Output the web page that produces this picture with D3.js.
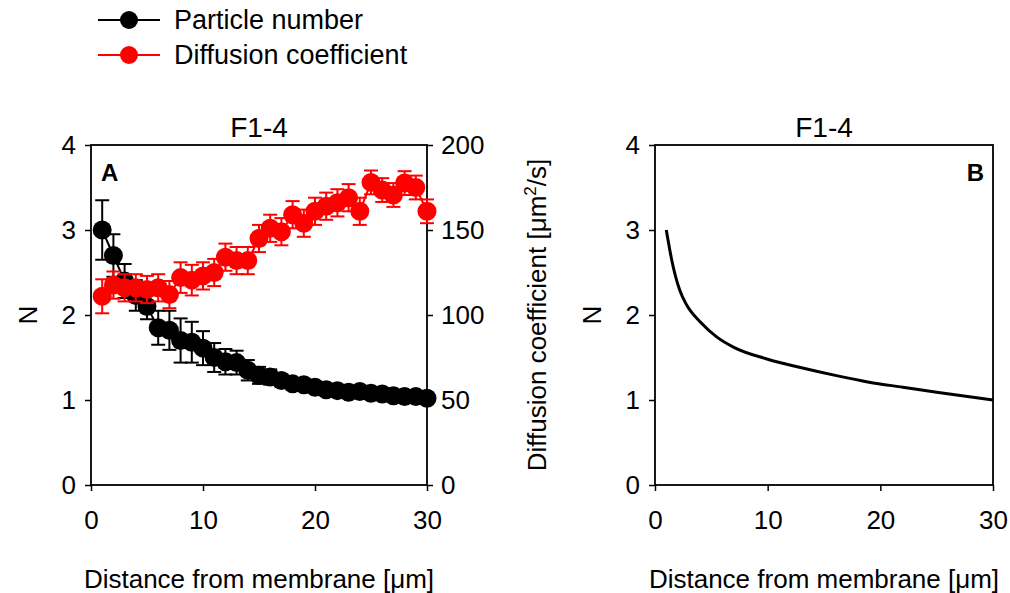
<!DOCTYPE html>
<html>
<head>
<meta charset="utf-8">
<script src="https://cdn.jsdelivr.net/npm/d3@7"></script>
<style>
  body { margin: 0; background: #fff; }
  svg text { font-family: "Liberation Sans", Arial, sans-serif; fill: #000; }
</style>
</head>
<body>
<div id="chart"></div>
<script>
// panel A, particle number N (mean and error)
const distA = d3.range(1, 31);
const nMean = [3.0, 2.7, 2.4, 2.23, 2.1, 1.85, 1.82, 1.7, 1.68, 1.61,
               1.5, 1.45, 1.44, 1.35, 1.29, 1.27, 1.23, 1.19, 1.18, 1.15,
               1.12, 1.11, 1.09, 1.1, 1.08, 1.07, 1.05, 1.04, 1.04, 1.02];
const nErr = [0.35, 0.25, 0.2, 0.18, 0.15, 0.2, 0.23, 0.26, 0.24, 0.2,
              0.17, 0.15, 0.14, 0.12, 0.1, 0.09, 0.07, 0.06, 0.06, 0.05,
              0.05, 0.04, 0.04, 0.04, 0.04, 0.04, 0.03, 0.03, 0.03, 0.03];
// panel A, diffusion coefficient (um^2/s)
const dMean = [111, 117.6, 116, 116, 115, 116, 112, 122, 120.5, 123,
               125, 134, 132, 132, 145, 151, 149, 159, 154, 161,
               164, 166, 169, 161, 178, 173.5, 170.6, 177.6, 175, 161];
const dErr = [10, 8, 8, 8, 8, 8, 8, 9, 9, 8,
              8, 8, 8, 8, 8, 8, 8, 8, 8, 8,
              8, 8, 8, 8, 7, 7, 7, 7, 7, 7];
// panel B, model curve
const distB = [1, 1.16, 1.48, 2.2, 2.8, 4, 5.5, 7, 10, 13, 16, 19, 22, 25, 30];
const nModel = [3.0, 2.88, 2.65, 2.29, 2.12, 1.92, 1.74, 1.62, 1.48, 1.38, 1.29, 1.21, 1.15, 1.09, 1.0];

const xTicks = [0, 10, 20, 30];
const nTicks = [0, 1, 2, 3, 4];
const dTicks = [0, 50, 100, 150, 200];

const W = 1010, H = 593;
const svg = d3.select('#chart').append('svg')
    .attr('width', W).attr('height', H);

const plotTop = 145, plotBottom = 485;
const fs = 26;
const fmt = d3.format('d');

function styleAxis(a) {
    a.select('.domain').remove();
    a.selectAll('line').attr('stroke-width', 1.5);
    a.selectAll('text').style('font-size', fs + 'px')
        .style('font-family', '"Liberation Sans", Arial, sans-serif');
}

function panel(left, right) {
    const x = d3.scaleLinear().domain([0, 30]).range([left, right]);
    const y = d3.scaleLinear().domain([0, 4]).range([plotBottom, plotTop]);
    const g = svg.append('g');
    // box
    g.append('rect').attr('x', left).attr('y', plotTop)
        .attr('width', right - left).attr('height', plotBottom - plotTop)
        .attr('fill', 'none').attr('stroke', '#000').attr('stroke-width', 1.8);
    g.append('g').attr('transform', `translate(0,${plotBottom})`)
        .call(d3.axisBottom(x).tickValues(xTicks).tickFormat(fmt).tickSize(6).tickPadding(20))
        .call(styleAxis);
    g.append('g').attr('transform', `translate(${left},0)`)
        .call(d3.axisLeft(y).tickValues(nTicks).tickFormat(fmt).tickSize(6).tickPadding(9))
        .call(styleAxis);
    g.append('text').attr('x', (left + right) / 2).attr('y', 137)
        .attr('text-anchor', 'middle').style('font-size', '28px').text('F1-4');
    g.append('text').attr('x', (left + right) / 2).attr('y', 588)
        .attr('text-anchor', 'middle').style('font-size', fs + 'px')
        .text('Distance from membrane [\u03bcm]');
    g.append('text').attr('transform', `translate(${left - 54},${(plotTop + plotBottom) / 2}) rotate(-90)`)
        .attr('text-anchor', 'middle').style('font-size', fs + 'px').text('N');
    return { x, y, g };
}

// ---- panel A ----
const A = panel(91, 427);
const yD = d3.scaleLinear().domain([0, 200]).range([plotBottom, plotTop]);
A.g.append('g').attr('transform', 'translate(427,0)')
    .call(d3.axisRight(yD).tickValues(dTicks).tickFormat(fmt).tickSize(6).tickPadding(8))
    .call(styleAxis);
const lab = A.g.append('text')
    .attr('transform', `translate(546,${(plotTop + plotBottom) / 2}) rotate(-90)`)
    .attr('text-anchor', 'middle').style('font-size', fs + 'px');
lab.append('tspan').text('Diffusion coefficient [\u03bcm');
lab.append('tspan').attr('dy', -10).style('font-size', '17px').text('2');
lab.append('tspan').attr('dy', 10).text('/s]');

A.g.append('text').attr('x', 101).attr('y', 181).style('font-size', '24px')
    .style('font-weight', 'bold').text('A');

function series(xs, ms, es, yScale, color) {
    const g = A.g.append('g');
    const cap = 7;
    const pts = xs.map((d, i) => ({ x: d, m: ms[i], e: es[i] }));
    g.selectAll('line.eb').data(pts).enter().append('line')
        .attr('x1', d => A.x(d.x)).attr('x2', d => A.x(d.x))
        .attr('y1', d => yScale(d.m - d.e)).attr('y2', d => yScale(d.m + d.e))
        .attr('stroke', color).attr('stroke-width', 2);
    [-1, 1].forEach(s => {
        g.selectAll(null).data(pts).enter().append('line')
            .attr('x1', d => A.x(d.x) - cap).attr('x2', d => A.x(d.x) + cap)
            .attr('y1', d => yScale(d.m + s * d.e)).attr('y2', d => yScale(d.m + s * d.e))
            .attr('stroke', color).attr('stroke-width', 2);
    });
    g.append('path').datum(pts)
        .attr('d', d3.line().x(d => A.x(d.x)).y(d => yScale(d.m)))
        .attr('fill', 'none').attr('stroke', color).attr('stroke-width', 2);
    g.selectAll('circle').data(pts).enter().append('circle')
        .attr('cx', d => A.x(d.x)).attr('cy', d => yScale(d.m))
        .attr('r', 9.5).attr('fill', color);
}
series(distA, nMean, nErr, A.y, '#000');
series(distA, dMean, dErr, yD, '#ff0000');

// ---- panel B ----
const B = panel(655, 993);
B.g.append('path')
    .datum(distB.map((d, i) => [d, nModel[i]]))
    .attr('d', d3.line().x(d => B.x(d[0])).y(d => B.y(d[1])).curve(d3.curveMonotoneX))
    .attr('fill', 'none').attr('stroke', '#000').attr('stroke-width', 3);
B.g.append('text').attr('x', 984).attr('y', 181).attr('text-anchor', 'end')
    .style('font-size', '24px').style('font-weight', 'bold').text('B');

// ---- legend ----
const legend = [{ name: 'Particle number', color: '#000', y: 20 },
                { name: 'Diffusion coefficient', color: '#ff0000', y: 55 }];
const lg = svg.append('g');
legend.forEach(d => {
    lg.append('line').attr('x1', 98).attr('x2', 160).attr('y1', d.y).attr('y2', d.y)
        .attr('stroke', d.color).attr('stroke-width', 2);
    lg.append('circle').attr('cx', 129).attr('cy', d.y).attr('r', 9).attr('fill', d.color);
    lg.append('text').attr('x', 174).attr('y', d.y + 9).style('font-size', '27px').text(d.name);
});
</script>
</body>
</html>
